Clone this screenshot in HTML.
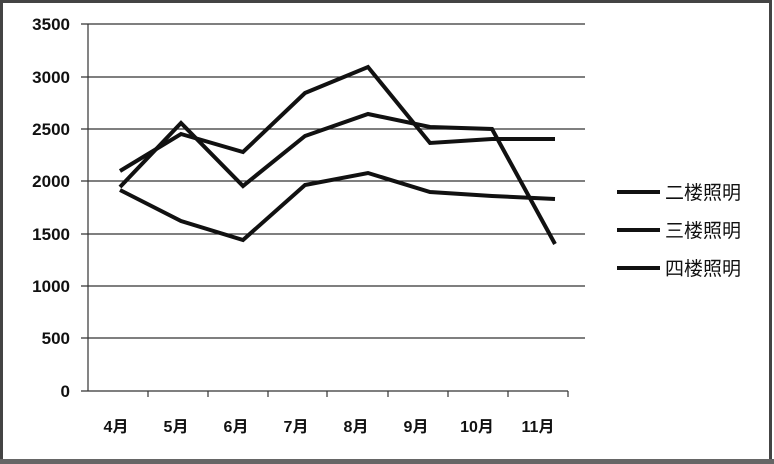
<!DOCTYPE html>
<html><head><meta charset="utf-8"><style>
html,body{margin:0;padding:0;background:#fff;}
svg{display:block;}
text{font-family:"Liberation Sans","Noto Sans CJK SC",sans-serif;}
</style></head><body>
<svg width="774" height="464" viewBox="0 0 774 464" xmlns="http://www.w3.org/2000/svg">
<rect x="0" y="0" width="774" height="464" fill="#fff"/>
<rect x="1.5" y="1.5" width="769" height="459" fill="none" stroke="#444" stroke-width="3"/>
<rect x="0" y="459" width="774" height="5" fill="#666"/>
<g stroke="#333" stroke-width="1.2">
<line x1="81" y1="24" x2="585" y2="24"/>
<line x1="81" y1="77" x2="585" y2="77"/>
<line x1="81" y1="129" x2="585" y2="129"/>
<line x1="81" y1="181" x2="585" y2="181"/>
<line x1="81" y1="234" x2="585" y2="234"/>
<line x1="81" y1="286" x2="585" y2="286"/>
<line x1="81" y1="338" x2="585" y2="338"/>
<line x1="81" y1="391" x2="568" y2="391"/>
<line x1="88" y1="24" x2="88" y2="391"/>
<line x1="148" y1="391" x2="148" y2="397"/><line x1="208" y1="391" x2="208" y2="397"/>
<line x1="268" y1="391" x2="268" y2="397"/><line x1="327" y1="391" x2="327" y2="397"/>
<line x1="388" y1="391" x2="388" y2="397"/><line x1="448" y1="391" x2="448" y2="397"/>
<line x1="508" y1="391" x2="508" y2="397"/><line x1="568" y1="391" x2="568" y2="397"/>
</g>
<g font-size="17" fill="#111" text-anchor="end" font-weight="bold">
<text x="70" y="30">3500</text><text x="70" y="83">3000</text><text x="70" y="135">2500</text>
<text x="70" y="187">2000</text><text x="70" y="240">1500</text><text x="70" y="292">1000</text>
<text x="70" y="344">500</text><text x="70" y="397">0</text>
</g>
<g font-size="16" fill="#111" text-anchor="middle" font-weight="bold">
<text x="116" y="432">4月</text><text x="176" y="432">5月</text><text x="236" y="432">6月</text>
<text x="296" y="432">7月</text><text x="356" y="432">8月</text><text x="416" y="432">9月</text>
<text x="477" y="432">10月</text><text x="538" y="432">11月</text>
</g>
<g fill="none" stroke="#111" stroke-width="4" stroke-linejoin="miter">
<polyline points="120,171 181,134 243,152 305,93 368,67 430,143 492,139 555,139"/>
<polyline points="120,187 181,123 243,186 305,136 368,114 430,127 492,129 555,244"/>
<polyline points="120,190 181,221 243,240 305,185 368,173 430,192 492,196 555,199"/>
</g>
<g stroke="#111" stroke-width="4">
<line x1="617" y1="192" x2="660" y2="192"/>
<line x1="617" y1="230" x2="660" y2="230"/>
<line x1="617" y1="268" x2="660" y2="268"/>
</g>
<g font-size="19" fill="#111">
<text x="665" y="199">二楼照明</text>
<text x="665" y="237">三楼照明</text>
<text x="665" y="275">四楼照明</text>
</g>
</svg>
</body></html>
